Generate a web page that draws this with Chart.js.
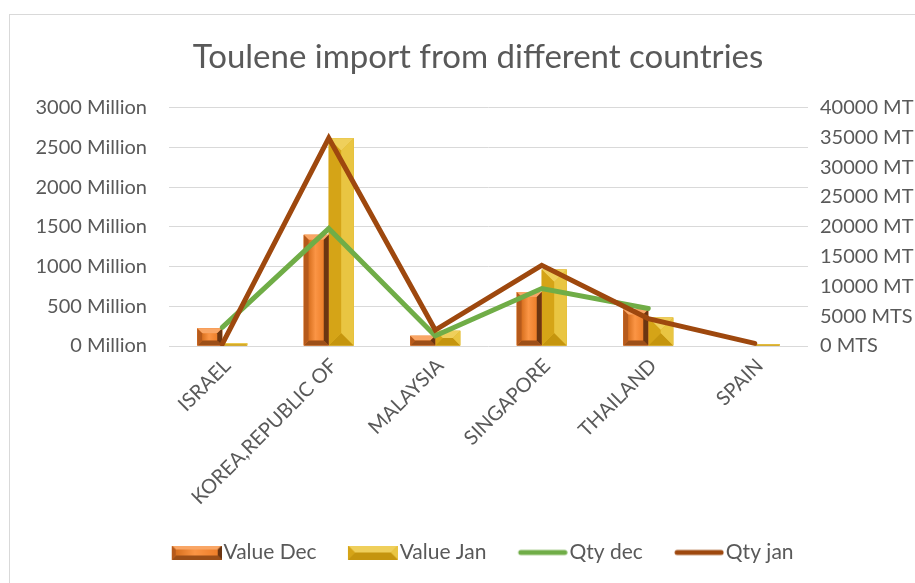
<!DOCTYPE html>
<html><head><meta charset="utf-8">
<script src="https://cdn.jsdelivr.net/npm/chart.js@4.4.0/dist/chart.umd.min.js"></script>
<style>
html,body{margin:0;padding:0;background:#fff;}
#wrap{position:relative;width:915px;height:583px;overflow:hidden;background:#fff;}
#frame{position:absolute;left:9px;top:14px;width:1000px;height:1000px;border:1px solid #d9d9d9;box-sizing:border-box;}
canvas{position:absolute;left:0;top:0;}
</style></head><body>
<div id="wrap"><div id="frame"></div><canvas id="c" width="956" height="583"></canvas></div>
<script>
const chartTitle = 'Toulene import from different countries';
const categories = ['ISRAEL', 'KOREA,REPUBLIC OF', 'MALAYSIA', 'SINGAPORE', 'THAILAND', 'SPAIN'];
const seriesNames = ['Value Dec', 'Value Jan', 'Qty dec', 'Qty jan'];
const valueDec = [222, 1401, 129, 681, 460, null];   // Million
const valueJan = [34, 2614, 192, 962, 360, 25];      // Million
const qtyDec = [3130, 19700, 1720, 9650, 6300, null]; // MT
const qtyJan = [330, 34900, 2680, 13550, 4600, 450];  // MT
const leftTicks = [0, 500, 1000, 1500, 2000, 2500, 3000];
const leftTickLabels = ['0 Million', '500 Million', '1000 Million', '1500 Million', '2000 Million', '2500 Million', '3000 Million'];
const rightTicks = [0, 5000, 10000, 15000, 20000, 25000, 30000, 35000, 40000];
const rightTickLabels = ['0 MTS', '5000 MTS', '10000 MT', '15000 MT', '20000 MT', '25000 MT', '30000 MT', '35000 MT', '40000 MT'];

const FONT = 'Lato, "Open Sans", sans-serif';
const TXT = '#595959';

function bevel(ctx, l, t, r, b, s, c) {
  const w = r - l, h = b - t;
  s = Math.max(0, Math.min(s, w / 2, h / 2));
  const poly = (pts, col) => {
    ctx.beginPath(); ctx.moveTo(pts[0], pts[1]);
    for (let i = 2; i < pts.length; i += 2) ctx.lineTo(pts[i], pts[i + 1]);
    ctx.closePath(); ctx.fillStyle = col; ctx.fill();
  };
  let face = c.face;
  if (c.faceStops && r - l > 2 * s) {
    const g = ctx.createLinearGradient(l + s, 0, r - s, 0);
    c.faceStops.forEach(([o, col]) => g.addColorStop(o, col));
    face = g;
  }
  poly([l, t, r, t, r, b, l, b], c.base);
  poly([l + s, t + s, r - s, t + s, r - s, b - s, l + s, b - s], face);
  poly([l, t, r, t, r - s, t + s, l + s, t + s], c.top);
  poly([l, b, r, b, r - s, b - s, l + s, b - s], c.bottom);
  poly([l, t, l + s, t + s, l + s, b - s, l, b], c.left);
  poly([r, t, r - s, t + s, r - s, b - s, r, b], c.right);
}

const decStyle = { size: 5, base: '#F0822D', face: '#F0822D',
  faceStops: [[0, '#D8701F'], [0.45, '#FB9545'], [1, '#EE7F2A']],
  top: '#F9A666', left: '#B65A1B', right: '#6B3511', bottom: '#9C4F18' };
const janStyle = { size: 1000, base: '#DDB22A', face: '#DDB22A',
  top: '#EFCF5B', left: '#D5A417', right: '#E9C542', bottom: '#C5950E' };
const barStyles = [decStyle, janStyle];

// legend swatch canvases: 68 wide, visible swatch occupies the right 50 px
function makeBarSwatch(st, s) {
  const cv = document.createElement('canvas'); cv.width = 68; cv.height = 14;
  bevel(cv.getContext('2d'), 18, 0, 68, 14, s, st); return cv;
}
function makeLineSwatch(col) {
  const cv = document.createElement('canvas'); cv.width = 68; cv.height = 8;
  const x = cv.getContext('2d'); x.strokeStyle = col; x.lineWidth = 5; x.lineCap = 'round';
  x.beginPath(); x.moveTo(21, 4); x.lineTo(65, 4); x.stroke(); return cv;
}
const swatches = [makeBarSwatch(decStyle, 4), makeBarSwatch(janStyle, 7), makeLineSwatch('#70AD47'), makeLineSwatch('#9E480E')];

const bevelPlugin = {
  id: 'bevel',
  afterDatasetDraw(chart, args) {
    const meta = args.meta;
    if (meta.type !== 'bar') return;
    const st = barStyles[args.index];
    const ctx = chart.ctx, ca = chart.chartArea;
    ctx.save();
    ctx.beginPath(); ctx.rect(ca.left, ca.top, ca.right - ca.left, ca.bottom - ca.top); ctx.clip();
    meta.data.forEach((el, i) => {
      const v = chart.data.datasets[args.index].data[i];
      if (v === null || v === undefined) return;
      const p = el.getProps(['x', 'y', 'base', 'width'], true);
      const l = p.x - p.width / 2, r = p.x + p.width / 2;
      const t = Math.min(p.y, p.base), b = Math.max(p.y, p.base);
      bevel(ctx, l, t, r, b, st.size, st);
    });
    ctx.restore();
  }
};

Chart.defaults.font.family = FONT;
Chart.defaults.color = TXT;

new Chart(document.getElementById('c'), {
  data: {
    labels: categories,
    datasets: [
      { type: 'bar', label: seriesNames[0], data: valueDec, yAxisID: 'y', backgroundColor: '#F0822D', borderWidth: 0, order: 3,
        barPercentage: 1, categoryPercentage: 0.47 },
      { type: 'bar', label: seriesNames[1], data: valueJan, yAxisID: 'y', backgroundColor: '#DDB22A', borderWidth: 0, order: 3,
        barPercentage: 1, categoryPercentage: 0.47 },
      { type: 'line', label: seriesNames[2], data: qtyDec, yAxisID: 'y1', borderColor: '#70AD47', backgroundColor: '#70AD47',
        borderWidth: 5, pointRadius: 0, pointHoverRadius: 0, tension: 0, order: 2, borderCapStyle: 'round' },
      { type: 'line', label: seriesNames[3], data: qtyJan, yAxisID: 'y1', borderColor: '#9E480E', backgroundColor: '#9E480E',
        borderWidth: 5, pointRadius: 0, pointHoverRadius: 0, tension: 0, order: 1, borderCapStyle: 'round' }
    ]
  },
  options: {
    responsive: false,
    animation: false,
    devicePixelRatio: 1,
    layout: { padding: { left: 0, right: 0, top: 38, bottom: 10 } },
    plugins: {
      title: { display: true, text: chartTitle, color: TXT, font: { size: 33, weight: 'normal', family: FONT },
        padding: { top: 0, bottom: 30 } },
      legend: {
        position: 'bottom',
        labels: {
          usePointStyle: true, pointStyleWidth: 50.5, padding: 22, color: TXT,
          font: { size: 21, family: FONT },
          generateLabels(chart) {
            const items = Chart.defaults.plugins.legend.labels.generateLabels(chart);
            items.forEach(it => { it.pointStyle = swatches[it.datasetIndex]; });
            return items.sort((a, b) => a.datasetIndex - b.datasetIndex);
          }
        }
      },
      tooltip: { enabled: false }
    },
    scales: {
      x: {
        grid: { display: false }, border: { display: false },
        ticks: { minRotation: 45, maxRotation: 45, autoSkip: false, padding: 0, labelOffset: 5, color: TXT, font: { size: 20, family: FONT } },
        afterFit(s) { s.height = 174; }
      },
      y: {
        position: 'left', min: 0, max: 3000,
        afterBuildTicks(s) { s.ticks = leftTicks.map(v => ({ value: v })); },
        grid: { color: '#D9D9D9', lineWidth: 1, drawTicks: false }, border: { display: false },
        ticks: { padding: 22, color: TXT, font: { size: 20, family: FONT },
          callback: (v) => leftTickLabels[leftTicks.indexOf(v)] },
        afterFit(s) { s.width = 169; }
      },
      y1: {
        position: 'right', min: 0, max: 40000,
        afterBuildTicks(s) { s.ticks = rightTicks.map(v => ({ value: v })); },
        grid: { display: false, drawTicks: false }, border: { display: false },
        ticks: { padding: 12, color: TXT, font: { size: 20, family: FONT },
          callback: (v) => rightTickLabels[rightTicks.indexOf(v)] },
        afterFit(s) { s.width = 148; }
      }
    }
  },
  plugins: [bevelPlugin]
});
</script>
</body></html>
